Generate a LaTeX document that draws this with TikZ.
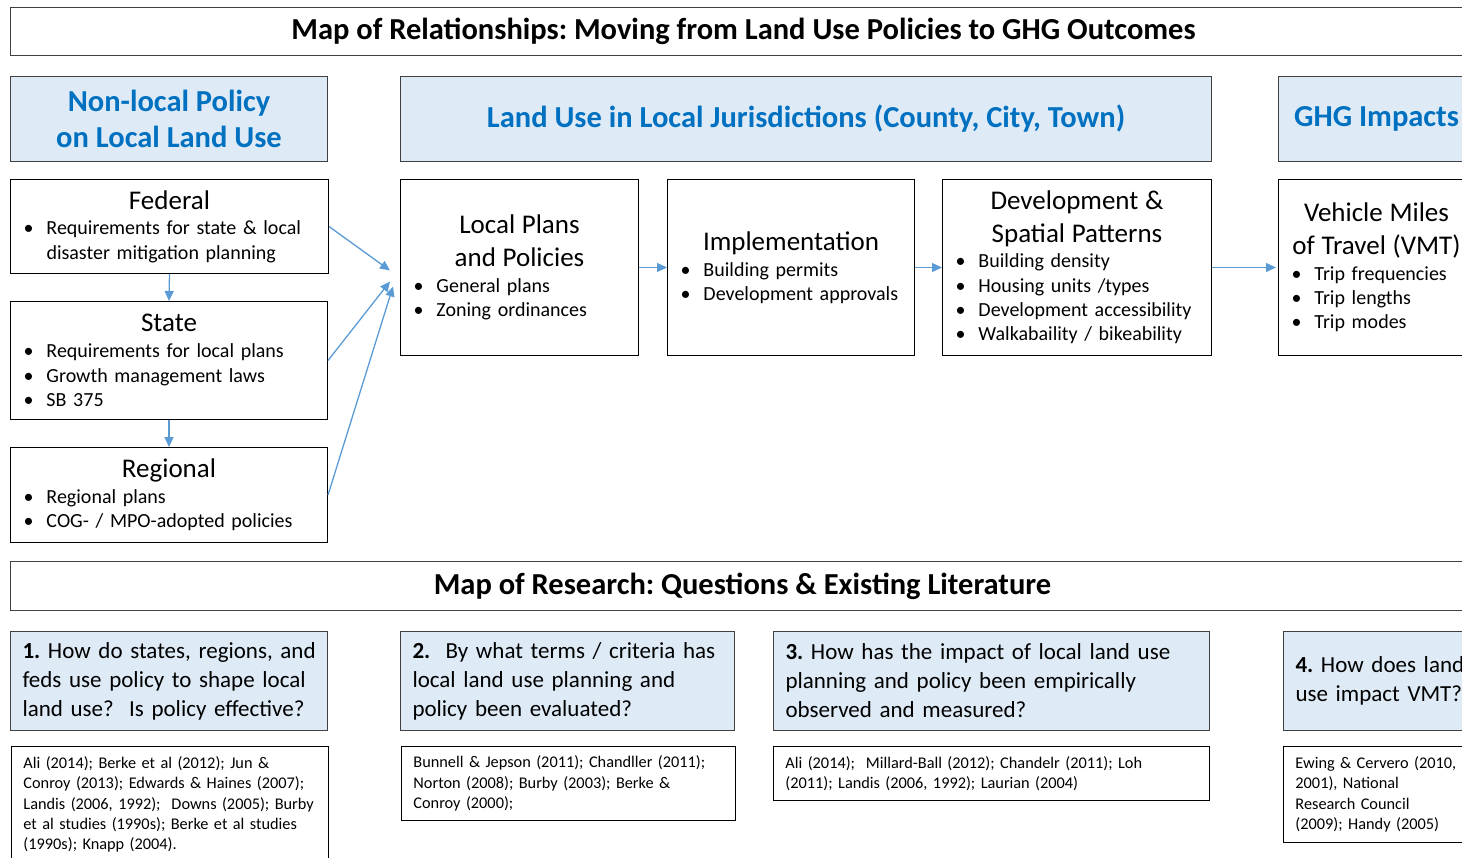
\documentclass[tikz,border=0pt]{standalone}
\usepackage{fontspec}
\setmainfont{Carlito}
\usetikzlibrary{arrows.meta, positioning, calc}
\definecolor{headblue}{RGB}{0, 112, 192}
\definecolor{headfill}{RGB}{222, 235, 247}
\definecolor{flowblue}{RGB}{91, 155, 213}
\definecolor{edgegray}{RGB}{64, 64, 64}
\frenchspacing
\newcommand{\bannerfont}{\fontsize{30.5}{36}\selectfont\bfseries}
\newcommand{\headfont}{\fontsize{30.5}{36}\selectfont\bfseries}
\newcommand{\stagefont}{\fontsize{27}{32.5}\selectfont}
\newcommand{\itemfont}{\fontsize{20}{24.3}\selectfont}
\newcommand{\askfont}{\fontsize{23}{29}\selectfont}
\newcommand{\litfont}{\fontsize{16.3}{20.3}\selectfont}
\newcommand{\stagetitle}[1]{{\centering\stagefont #1\par}\vspace{1.5pt}}
\newcommand{\bitem}[1]{\par\hangindent=26pt\hangafter=1\noindent\makebox[26pt][l]{\hspace{3pt}\textbullet}#1\par}

\begin{document}
\begin{tikzpicture}[x=1pt, y=-1pt,
  banner/.style={draw=edgegray, line width=1pt, anchor=north west, inner sep=0pt, font=\bannerfont},
  headbox/.style={draw=edgegray, fill=headfill, line width=1pt, anchor=north west, inner sep=0pt, align=center, text=headblue, font=\headfont},
  stagebox/.style={draw=black, line width=1pt, anchor=north west, inner xsep=10pt, inner ysep=0pt, align=left, font=\itemfont},
  askbox/.style={draw=edgegray, fill=headfill, line width=1pt, anchor=north west, inner xsep=12pt, inner ysep=0pt, align=left, font=\askfont},
  litbox/.style={draw=black, line width=0.9pt, anchor=north west, inner xsep=12pt, inner ysep=0pt, align=left, font=\litfont},
  flow/.style={draw=flowblue, line width=1.3pt, -{Triangle[length=10pt, width=9pt]}}]
  \useasboundingbox (0,0) rectangle (1462,857);
  \clip (0,0) rectangle (1462,857);

  % relationships
  \node[banner, minimum width=1466pt, minimum height=48pt] (reltitle) at (10,7) {Map of Relationships: Moving from Land Use Policies to GHG Outcomes};

  \node[headbox, minimum width=317pt, minimum height=85pt] (nonlocal) at (10,76) {Non-local Policy\\on Local Land Use};
  \node[headbox, minimum width=811pt, minimum height=85pt] (landuse) at (400,76) {Land Use in Local Jurisdictions (County, City, Town)};
  \node[headbox, minimum width=196pt, minimum height=85pt] (ghg) at (1278,76) {GHG Impacts};

  \node[stagebox, text width=298pt, minimum height=94pt] (federal) at (10,179) {
    \stagetitle{Federal}
    \bitem{Requirements for state \& local disaster mitigation planning}};
  \node[stagebox, text width=297pt, minimum height=118pt] (state) at (10,301) {
    \stagetitle{State}
    \bitem{Requirements for local plans}
    \bitem{Growth management laws}
    \bitem{SB 375}};
  \node[stagebox, text width=297pt, minimum height=95pt] (regional) at (10,447) {
    \stagetitle{Regional}
    \bitem{Regional plans}
    \bitem{COG- / MPO-adopted policies}};

  \node[stagebox, text width=218pt, minimum height=176pt] (plans) at (400,179) {
    \stagetitle{Local Plans\\and Policies}
    \bitem{General plans}
    \bitem{Zoning ordinances}};
  \node[stagebox, text width=227pt, minimum height=176pt] (impl) at (667,179) {
    \stagetitle{Implementation}
    \bitem{Building permits}
    \bitem{Development approvals}};
  \node[stagebox, text width=249pt, minimum height=176pt] (spatial) at (942,179) {
    \stagetitle{Development \&\\Spatial Patterns}
    \bitem{Building density}
    \bitem{Housing units /types}
    \bitem{Development accessibility}
    \bitem{Walkabaility / bikeability}};
  \node[stagebox, text width=176pt, minimum height=176pt] (vmt) at (1278,179) {
    \stagetitle{Vehicle Miles\\of Travel (VMT)}
    \bitem{Trip frequencies}
    \bitem{Trip lengths}
    \bitem{Trip modes}};

  \draw[flow] (federal.south) -- (state.north);
  \draw[flow] (state.south) -- (regional.north);
  \draw[flow] (federal.east) -- ([xshift=-10pt, yshift=-3pt]plans.west);
  \draw[flow] (state.east) -- ([xshift=-10pt, yshift=-14pt]plans.west);
  \draw[flow] (regional.east) -- ([xshift=-7pt, yshift=-19pt]plans.west);
  \draw[flow] (plans) -- (impl);
  \draw[flow] (impl) -- (spatial);
  \draw[flow, shorten >=2pt] (spatial) -- (vmt);

  % research
  \node[banner, minimum width=1464pt, minimum height=49pt] (restitle) at (10,561) {Map of Research: Questions \& Existing Literature};

  \node[askbox, text width=293pt, minimum height=99pt] (ask1) at (10,631) {\mbox{{\bfseries 1.} How do states, regions, and}\\feds use policy to shape local\\land use?~ Is policy effective?};
  \node[askbox, text width=310pt, minimum height=99pt] (ask2) at (400,631) {{\bfseries 2.}~ By what terms / criteria has\\local land use planning and\\policy been evaluated?};
  \node[askbox, text width=412pt, minimum height=99pt] (ask3) at (773,631) {{\bfseries 3.} How has the impact of local land use\\planning and policy been empirically\\observed and measured?};
  \node[askbox, text width=176pt, minimum height=99pt] (ask4) at (1283,631) {{\bfseries 4.} How does land\\use impact VMT?};

  \node[litbox, text width=293pt, minimum height=116pt] (lit1) at (11,746) {Ali (2014); Berke et al (2012); Jun \&\\Conroy (2013); Edwards \& Haines (2007);\\Landis (2006, 1992);~ Downs (2005); Burby\\et al studies (1990s); Berke et al studies\\(1990s); Knapp (2004).};
  \node[litbox, text width=310pt, minimum height=74pt] (lit2) at (401,746) {Bunnell \& Jepson (2011); Chandller (2011);\\Norton (2008); Burby (2003); Berke \&\\Conroy (2000);};
  \node[litbox, text width=412pt, minimum height=54pt] (lit3) at (773,746) {Ali (2014);~ Millard-Ball (2012); Chandelr (2011); Loh\\(2011); Landis (2006, 1992); Laurian (2004)};
  \node[litbox, text width=176pt, minimum height=96pt] (lit4) at (1283,746) {Ewing \& Cervero (2010,\\2001), National\\Research Council\\(2009); Handy (2005)};
\end{tikzpicture}
\end{document}
